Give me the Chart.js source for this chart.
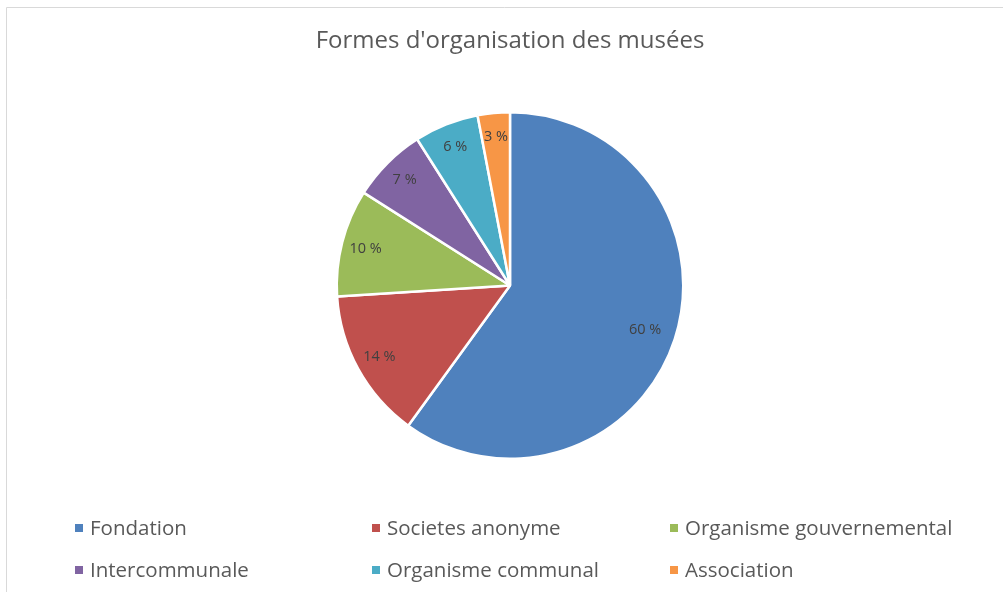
<!DOCTYPE html>
<html>
<head>
<meta charset="utf-8">
<script src="https://cdn.jsdelivr.net/npm/chart.js@4/dist/chart.umd.min.js"></script>
<style>
html,body{margin:0;padding:0;background:#fff;}
canvas{display:block;}
</style>
</head>
<body>
<canvas id="c" width="1003" height="592"></canvas>
<script>
const titleText = "Formes d'organisation des musées";
const categories = ["Fondation", "Societes anonyme", "Organisme gouvernemental", "Intercommunale", "Organisme communal", "Association"];
const values = [60, 14, 10, 7, 6, 3];
const colors = ["#4F81BD", "#C0504D", "#9BBB59", "#8064A2", "#4BACC6", "#F79646"];
const FONT = "'Open Sans', sans-serif";

const decor = {
  id: 'decor',
  beforeDraw(chart) {
    const ctx = chart.ctx;
    ctx.save();
    ctx.strokeStyle = '#d9d9d9';
    ctx.lineWidth = 1;
    ctx.beginPath();
    ctx.moveTo(6.5, 592); ctx.lineTo(6.5, 7.5); ctx.lineTo(1003, 7.5);
    ctx.stroke();
    ctx.fillStyle = '#595959';
    ctx.font = "24px " + FONT;
    ctx.textAlign = 'center';
    ctx.textBaseline = 'middle';
    ctx.fillText(titleText, 510, 41);
    ctx.restore();
  },
  afterDraw(chart) {
    const ctx = chart.ctx;
    ctx.save();
    const meta = chart.getDatasetMeta(0);
    ctx.font = "14.5px " + FONT;
    ctx.fillStyle = '#404040';
    ctx.textAlign = 'center';
    ctx.textBaseline = 'middle';
    meta.data.forEach((arc, i) => {
      const mid = (arc.startAngle + arc.endAngle) / 2;
      const f = i === 0 ? 0.82 : 0.86;
      const r = arc.outerRadius * f;
      ctx.fillText(values[i] + ' %', arc.x + Math.cos(mid) * r, arc.y + Math.sin(mid) * r);
    });
    const colX = [75, 372, 670];
    const rowY = [528, 570];
    ctx.font = "20.5px " + FONT;
    ctx.textAlign = 'left';
    categories.forEach((c, i) => {
      const x = colX[i % 3], y = rowY[Math.floor(i / 3)];
      ctx.fillStyle = colors[i];
      ctx.fillRect(x, y - 4, 8, 8);
      ctx.fillStyle = '#595959';
      ctx.fillText(c, x + 15, y + 1);
    });
    ctx.restore();
  }
};

new Chart(document.getElementById('c'), {
  type: 'pie',
  data: {
    labels: categories,
    datasets: [{
      data: values,
      backgroundColor: colors,
      borderColor: '#ffffff',
      borderWidth: 2.5
    }]
  },
  options: {
    responsive: false,
    devicePixelRatio: 1,
    animation: false,
    layout: { padding: { top: 111, bottom: 132, left: 17, right: 0 } },
    plugins: {
      legend: { display: false },
      title: { display: false },
      tooltip: { enabled: false }
    }
  },
  plugins: [decor]
});
</script>
</body>
</html>
